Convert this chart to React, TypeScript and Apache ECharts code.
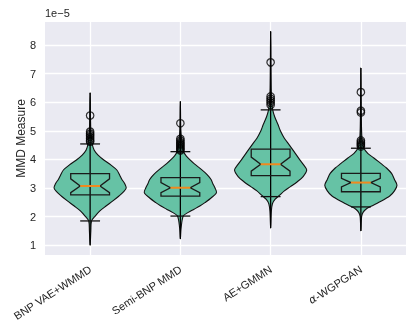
import React, { useEffect, useRef } from "react";
import * as echarts from "echarts";

const categories = ["BNP VAE+WMMD", "Semi-BNP MMD", "AE+GMMN", "α-WGPGAN"];
const yTicks = [1, 2, 3, 4, 5, 6, 7, 8];

// Violin outlines: levels (in units of 1e-5) and relative half-widths
const violinLevels1 = [1.0, 1.5, 1.85, 2.02, 2.2, 2.37, 2.55, 2.72, 2.87, 3.0, 3.15, 3.3, 3.45, 3.63, 3.8, 3.98, 4.15, 4.33, 4.55, 4.8, 5.0, 5.5, 6.33];
const violinDensity1 = [0, 0.02, 0.04, 0.14, 0.27, 0.44, 0.63, 0.8, 0.93, 1.0, 0.96, 0.88, 0.82, 0.74, 0.58, 0.38, 0.22, 0.11, 0.055, 0.035, 0.02, 0.01, 0];
const violinLevels2 = [1.22, 1.6, 2.02, 2.15, 2.26, 2.38, 2.49, 2.65, 2.84, 3.0, 3.15, 3.3, 3.47, 3.65, 3.85, 4.12, 4.3, 4.5, 4.75, 5.0, 5.3, 6.03];
const violinDensity2 = [0, 0.02, 0.08, 0.22, 0.38, 0.55, 0.68, 0.85, 1.0, 0.96, 0.9, 0.85, 0.74, 0.58, 0.38, 0.16, 0.08, 0.05, 0.03, 0.015, 0.008, 0];
const violinLevels3 = [1.6, 2.2, 2.45, 2.6, 2.75, 2.9, 3.05, 3.22, 3.4, 3.63, 3.8, 4.0, 4.27, 4.5, 4.74, 5.0, 5.2, 5.5, 5.75, 6.0, 6.5, 7.4, 8.47];
const violinDensity3 = [0, 0.02, 0.05, 0.12, 0.25, 0.38, 0.55, 0.74, 0.9, 1.0, 0.92, 0.8, 0.65, 0.52, 0.38, 0.27, 0.21, 0.11, 0.055, 0.03, 0.015, 0.008, 0];
const violinLevels4 = [1.5, 2.0, 2.15, 2.26, 2.37, 2.5, 2.72, 2.9, 3.1, 3.3, 3.51, 3.7, 3.86, 4.05, 4.21, 4.4, 4.6, 5.0, 5.7, 6.35, 7.19];
const violinDensity4 = [0, 0.02, 0.06, 0.14, 0.3, 0.5, 0.8, 0.93, 1.0, 0.93, 0.85, 0.71, 0.55, 0.36, 0.19, 0.08, 0.04, 0.02, 0.01, 0.005, 0];

// Box plot statistics
const dataMin = [1.0, 1.22, 1.6, 1.5];
const whiskerLow = [1.85, 2.02, 2.7, 2.34];
const boxQ1 = [2.76, 2.72, 3.43, 2.87];
const notchLow = [2.84, 2.84, 3.59, 3.04];
const boxMedian = [3.07, 3.01, 3.83, 3.19];
const notchHigh = [3.32, 3.19, 4.08, 3.34];
const boxQ3 = [3.5, 3.36, 4.36, 3.51];
const whiskerHigh = [4.54, 4.27, 5.73, 4.39];
const dataMax = [6.33, 6.03, 8.47, 7.19];

// Outliers
const outliers1 = [5.53, 4.97, 4.9, 4.84, 4.78, 4.72, 4.66, 4.62];
const outliers2 = [5.26, 4.72, 4.66, 4.6, 4.55, 4.5, 4.45, 4.4, 4.35, 4.31];
const outliers3 = [7.39, 6.2, 6.12, 6.05, 5.98, 5.9];
const outliers4 = [6.35, 5.7, 5.64, 4.66, 4.6, 4.55, 4.5, 4.45];

const violinLevels = [violinLevels1, violinLevels2, violinLevels3, violinLevels4];
const violinDensity = [violinDensity1, violinDensity2, violinDensity3, violinDensity4];
const outliers = [outliers1, outliers2, outliers3, outliers4];

const VIOLIN_HALF = 0.4;
const BOX_HALF = 0.215;
const NOTCH_HALF = 0.11;
const CAP_HALF = 0.11;

const FONT = "'Liberation Sans', Arial, sans-serif";
const TEXT = "#262626";

export default function App() {
  const ref = useRef<HTMLDivElement>(null);
  useEffect(() => {
    if (!ref.current) return;
    const chart = echarts.init(ref.current, undefined, { renderer: "svg" });
    const catData = categories.map((_, i) => [i + 1, boxMedian[i]]);
    const outlierData: number[][] = [];
    outliers.forEach((arr, i) => arr.forEach((v) => outlierData.push([i + 1, v])));

    const renderViolin = (_params: any, api: any) => {
      const x = api.value(0) as number;
      const i = x - 1;
      const lv = violinLevels[i];
      const dn = violinDensity[i];
      const hw = api.size([VIOLIN_HALF, 0])[0];
      const right = lv.map((y, k) => {
        const p = api.coord([x, y]);
        return [p[0] + dn[k] * hw, p[1]];
      });
      const left: number[][] = [];
      for (let k = lv.length - 2; k >= 1; k--) {
        const p = api.coord([x, lv[k]]);
        left.push([p[0] - dn[k] * hw, p[1]]);
      }
      return {
        type: "polygon",
        shape: { points: right.concat(left), smooth: 0.3 },
        style: { fill: "#66c2a5", stroke: "#111", lineWidth: 1.1 },
      };
    };

    const renderBox = (_params: any, api: any) => {
      const x = api.value(0) as number;
      const i = x - 1;
      const c = (xx: number, yy: number) => api.coord([xx, yy]);
      const line = (a: number[], b: number[], color = "#111", w = 1.3) => ({
        type: "line",
        shape: { x1: a[0], y1: a[1], x2: b[0], y2: b[1] },
        style: { stroke: color, lineWidth: w },
      });
      const boxPts = [
        c(x - BOX_HALF, boxQ1[i]),
        c(x + BOX_HALF, boxQ1[i]),
        c(x + BOX_HALF, notchLow[i]),
        c(x + NOTCH_HALF, boxMedian[i]),
        c(x + BOX_HALF, notchHigh[i]),
        c(x + BOX_HALF, boxQ3[i]),
        c(x - BOX_HALF, boxQ3[i]),
        c(x - BOX_HALF, notchHigh[i]),
        c(x - NOTCH_HALF, boxMedian[i]),
        c(x - BOX_HALF, notchLow[i]),
      ];
      return {
        type: "group",
        children: [
          line(c(x, dataMin[i]), c(x, dataMax[i]), "#000", 1.3),
          line(c(x - CAP_HALF, whiskerLow[i]), c(x + CAP_HALF, whiskerLow[i])),
          line(c(x - CAP_HALF, whiskerHigh[i]), c(x + CAP_HALF, whiskerHigh[i])),
          {
            type: "polygon",
            shape: { points: boxPts },
            style: { fill: "none", stroke: "#1a1a1a", lineWidth: 1.3 },
          },
          line(c(x - NOTCH_HALF, boxMedian[i]), c(x + NOTCH_HALF, boxMedian[i]), "#f08a1e", 2),
        ],
      };
    };

    chart.setOption({
      animation: false,
      textStyle: { fontFamily: FONT },
      grid: {
        left: 45,
        right: 9,
        top: 22,
        bottom: 77,
        show: true,
        backgroundColor: "#EAEAF2",
        borderWidth: 0,
      },
      graphic: [
        {
          type: "text",
          left: 45,
          top: 7,
          style: { text: "1e\u22125", fill: TEXT, font: `11px ${FONT}` },
        },
      ],
      xAxis: {
        type: "value",
        min: 0.5,
        max: 4.5,
        axisLine: { show: false },
        axisTick: { show: false, customValues: [1, 2, 3, 4] },
        axisLabel: {
          customValues: [1, 2, 3, 4],
          formatter: (v: number) => {
            const s = categories[Math.round(v) - 1] ?? "";
            if (s.startsWith("α")) return "{a|α}" + s.slice(1);
            return s;
          },
          rich: {
            a: { fontStyle: "italic", fontFamily: "'DejaVu Sans', sans-serif", fontSize: 11, color: TEXT },
          },
          rotate: 33,
          margin: 13,
          color: TEXT,
          fontSize: 11,
          fontFamily: FONT,
        },
        splitLine: { show: true, lineStyle: { color: "#ffffff", width: 1.3 } },
      },
      yAxis: {
        type: "value",
        min: 0.66,
        max: 8.8,
        name: "MMD Measure",
        nameLocation: "middle",
        nameGap: 18,
        nameMoveOverlap: false,
        nameTextStyle: { color: TEXT, fontSize: 12, fontFamily: FONT },
        axisLine: { show: false },
        axisTick: { show: false, customValues: yTicks },
        axisLabel: {
          customValues: yTicks,
          color: TEXT,
          fontSize: 11,
          fontFamily: FONT,
          margin: 9,
          formatter: (v: number) => String(Math.round(v)),
        },
        splitLine: { show: true, lineStyle: { color: "#ffffff", width: 1.3 } },
      },
      series: [
        {
          type: "custom",
          renderItem: renderViolin,
          data: catData,
          encode: { x: 0, y: 1 },
          z: 2,
        },
        {
          type: "custom",
          renderItem: renderBox,
          data: catData,
          encode: { x: 0, y: 1 },
          z: 3,
        },
        {
          type: "scatter",
          data: outlierData,
          symbol: "circle",
          symbolSize: 7.5,
          itemStyle: { color: "rgba(0,0,0,0)", borderColor: "#000", borderWidth: 1.2 },
          z: 4,
        },
      ],
    });
    return () => chart.dispose();
  }, []);
  return (
    <div
      ref={ref}
      style={{ position: "fixed", left: 0, top: 0, width: 415, height: 332 }}
    />
  );
}
